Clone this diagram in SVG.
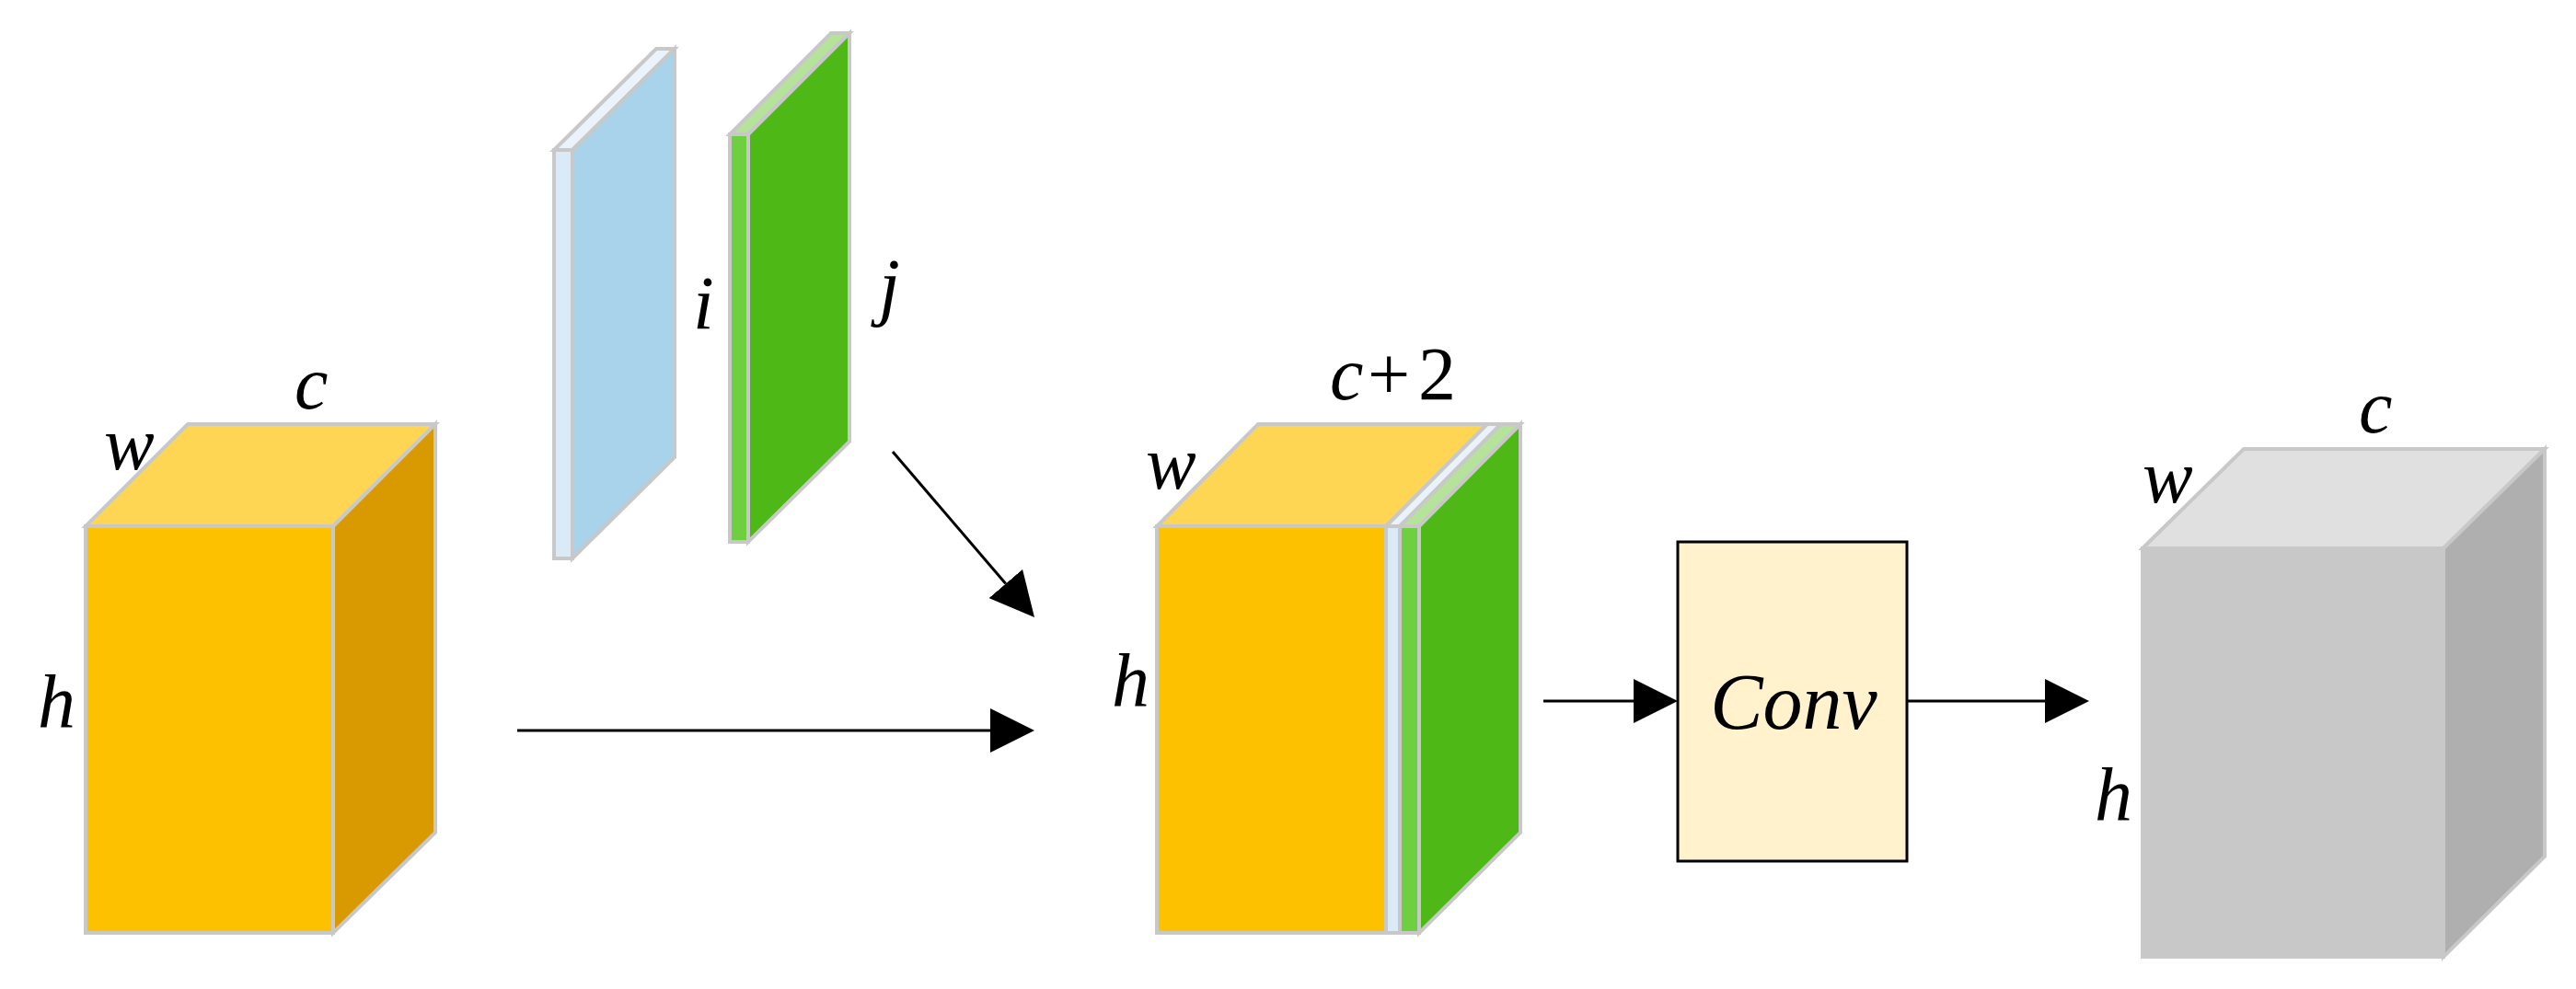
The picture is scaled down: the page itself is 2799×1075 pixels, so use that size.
<svg xmlns="http://www.w3.org/2000/svg" width="2799" height="1075" viewBox="0 0 2799 1075">
<style>
.e{stroke:#c8c8c8;stroke-width:4;stroke-linejoin:miter}
.lbl{font-family:"Liberation Serif","Times New Roman",serif;font-style:italic;font-size:82px;fill:#000}
.up{font-style:normal}
.cn{stroke:#000;stroke-width:3;fill:none}
</style>
<defs>
<marker id="ah" viewBox="0 0 48 48" refX="0" refY="24" markerWidth="48" markerHeight="48" markerUnits="userSpaceOnUse" orient="auto">
<path d="M0,0 L48,24 L0,48 Z" fill="#000"/>
</marker>
</defs>
<rect width="2799" height="1075" fill="#fff"/>

<g id="input-cube">
<polygon class="e" fill="#ffd653" points="93,572 362,572 473,461 204,461"/>
<polygon class="e" fill="#d89a00" points="362,572 473,461 473,905 362,1014"/>
<rect class="e" fill="#fdc100" x="93" y="572" width="269" height="442"/>
<text class="lbl" x="320" y="444">c</text>
<text class="lbl" x="113" y="510">w</text>
<text class="lbl" x="41" y="790">h</text>
</g>

<g id="slab-i">
<polygon class="e" fill="#eaf3fb" points="602,163 622,163 733,53 713,53"/>
<polygon class="e" fill="#a8d3eb" points="622,163 733,53 733,497 622,607"/>
<rect class="e" fill="#daebf7" x="602" y="163" width="20" height="444"/>
<text class="lbl" x="753" y="357">i</text>
</g>

<g id="slab-j">
<polygon class="e" fill="#b5e39a" points="793,146 813,146 923,36 903,36"/>
<polygon class="e" fill="#4db816" points="813,146 923,36 923,480 813,589"/>
<rect class="e" fill="#6ed040" x="793" y="146" width="20" height="443"/>
<text class="lbl" x="955" y="338">j</text>
</g>

<g id="concat-cube">
<polygon class="e" fill="#ffd653" points="1257,572 1506,572 1616,461 1367,461"/>
<polygon class="e" fill="#eaf3fb" points="1506,572 1521,572 1631,461 1616,461"/>
<polygon class="e" fill="#b5e39a" points="1521,572 1542,572 1652,461 1631,461"/>
<polygon class="e" fill="#4db816" points="1542,572 1652,461 1652,905 1542,1014"/>
<rect class="e" fill="#fdc100" x="1257" y="572" width="249" height="442"/>
<rect class="e" fill="#daebf7" x="1506" y="572" width="15" height="442"/>
<rect class="e" fill="#6ed040" x="1521" y="572" width="21" height="442"/>
<text class="lbl" y="434"><tspan x="1445">c</tspan><tspan class="up" x="1486">+</tspan><tspan class="up" x="1541">2</tspan></text>
<text class="lbl" x="1245" y="531">w</text>
<text class="lbl" x="1208" y="767">h</text>
</g>

<g id="conv">
<rect x="1823" y="589" width="249" height="347" fill="#fff2cc" stroke="#000" stroke-width="3"/>
<text class="lbl" x="1949" y="792" text-anchor="middle" style="font-size:86px">Conv</text>
</g>

<g id="output-cube">
<polygon class="e" fill="#e0e0e0" points="2328,596 2655,596 2765,488 2438,488"/>
<polygon class="e" fill="#afafaf" points="2655,596 2765,488 2765,931 2655,1040"/>
<rect fill="#c8c8c8" x="2326" y="594" width="331" height="448"/>
<text class="lbl" x="2563" y="470">c</text>
<text class="lbl" x="2328" y="546">w</text>
<text class="lbl" x="2276" y="891">h</text>
</g>

<g id="connectors">
<line class="cn" x1="562" y1="794" x2="1076" y2="794" marker-end="url(#ah)"/>
<line class="cn" x1="970" y1="491" x2="1092.8" y2="634.5" marker-end="url(#ah)"/>
<line class="cn" x1="1677" y1="762" x2="1775" y2="762" marker-end="url(#ah)"/>
<line class="cn" x1="2072" y1="762" x2="2222" y2="762" marker-end="url(#ah)"/>
</g>
</svg>
